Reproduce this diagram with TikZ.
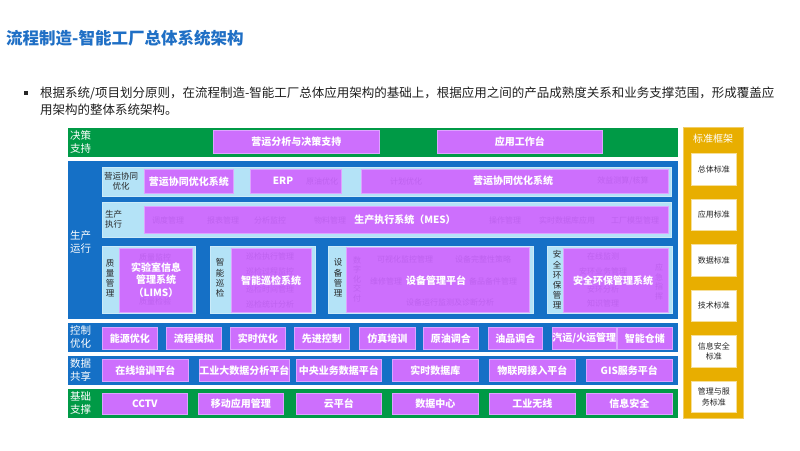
\documentclass[tikz,border=0pt]{standalone}
\usepackage{fontspec}
\setmainfont{Noto Sans CJK SC}
\usetikzlibrary{shadows}
\definecolor{tblue}{HTML}{1F6FC5}
\definecolor{bgreen}{HTML}{009A46}
\definecolor{bblue}{HTML}{1570C6}
\definecolor{lblue}{HTML}{B4E3F7}
\definecolor{mag}{HTML}{CD6FFD}
\definecolor{magb}{HTML}{DDA3FF}
\definecolor{ghost}{HTML}{BE62EF}
\definecolor{yel}{HTML}{E8AE00}
\newcommand\mb[6]{\node[mbox,anchor=north west,minimum width={(#4-#2)*1pt},minimum height={(#5-#3)*1pt}] (#1) at (#2,#3) {#6};}
\newcommand\rect[6]{\node[#6,anchor=north west,minimum width={(#4-#2)*1pt},minimum height={(#5-#3)*1pt}] (#1) at (#2,#3) {};}
\begin{document}
\begin{tikzpicture}[x=1pt,y=-1pt,
  mbox/.style={fill=mag,draw=magb,line width=0.7pt,inner sep=0pt,text=white,font=\fontsize{10}{12.5}\selectfont\bfseries,align=center},
  band/.style={draw=white,line width=1.2pt,inner sep=0pt,drop shadow={shadow xshift=0.6pt,shadow yshift=-0.6pt,opacity=0.3}},
  panel/.style={fill=lblue,draw=lblue!70!white,line width=0.6pt,inner sep=0pt,drop shadow={shadow xshift=1pt,shadow yshift=-1pt,opacity=0.45}},
  bandlab/.style={anchor=west,align=left,text=white,inner sep=0pt,font=\fontsize{10.5}{13}\selectfont},
  panlab/.style={align=center,text=black!85,inner sep=0pt,font=\fontsize{8.5}{10.2}\selectfont},
  ghosttxt/.style={text=ghost,inner sep=0pt,font=\fontsize{8}{10}\selectfont,align=center},
  lbl/.style={text=white,inner sep=0pt,font=\fontsize{10}{12.5}\selectfont\bfseries,align=center},
  stdbox/.style={fill=white,draw=yel!40!white,line width=0.5pt,inner sep=0pt,align=center,text=black!85,font=\fontsize{8}{10.5}\selectfont}
]
\useasboundingbox (0,0) rectangle (800,450);
\fill[white] (0,0) rectangle (800,450);

% title and text
\node[anchor=west,inner sep=0pt,text=tblue,font=\fontsize{16.5}{18}\selectfont\bfseries] (title) at (6,38) {流程制造-智能工厂总体系统架构};
\node[fill=black!85,minimum size=4pt,inner sep=0pt] (bul) at (26,93) {};
\node[anchor=west,inner sep=0pt,font=\fontsize{12.5}{14}\selectfont,text=black!88] (t1) at (40,93) {根据系统/项目划分原则，在流程制造-智能工厂总体应用架构的基础上，根据应用之间的产品成熟度关系和业务支撑范围，形成覆盖应};
\node[anchor=west,inner sep=0pt,font=\fontsize{12.5}{14}\selectfont,text=black!88] (t2) at (40,110) {用架构的整体系统架构。};

% bands
\rect{bdec}{67}{127}{678}{157}{band,fill=bgreen}
\rect{bprod}{67}{160}{678}{319}{band,fill=bblue}
\rect{bctrl}{67}{322}{678}{352}{band,fill=bblue}
\rect{bdata}{67}{355}{678}{385}{band,fill=bblue}
\rect{bbase}{67}{388}{678}{418}{band,fill=bgreen}
\node[bandlab] (ldec) at (70,142) {决策\\支持};
\node[bandlab] (lprod) at (70,242) {生产\\运行};
\node[bandlab] (lctrl) at (70,337) {控制\\优化};
\node[bandlab] (ldata) at (70,370) {数据\\共享};
\node[bandlab] (lbase) at (70,403) {基础\\支撑};

% decision row
\mb{d1}{213}{130}{379}{153}{营运分析与决策支持}
\mb{d2}{437}{130}{602}{153}{应用工作台}

% production panels
\rect{p1}{102}{167}{671}{196}{panel}
\rect{p2}{102}{202}{671}{237}{panel}
\rect{p3}{102}{246}{195}{313}{panel}
\rect{p4}{210}{246}{315}{313}{panel}
\rect{p5}{328}{246}{533}{313}{panel}
\rect{p6}{547}{246}{672}{313}{panel}
\node[panlab] (lp1) at (121,181) {营运协同\\优化};
\node[panlab,anchor=west,align=left] (lp2) at (105,219) {生产\\执行};
\node[panlab] (lp3) at (110,278) {质\\量\\管\\理};
\node[panlab] (lp4) at (220,278) {智\\能\\巡\\检};
\node[panlab] (lp5) at (338,278) {设\\备\\管\\理};
\node[panlab] (lp6) at (557,280) {安\\全\\环\\保\\管\\理};

% row 1
\mb{r1a}{144}{169}{233}{193}{营运协同优化系统}
\mb{r1b}{250}{169}{341}{193}{}
\mb{r1c}{361}{169}{668}{193}{}
\node[ghosttxt] (g1) at (322,181) {原油优化};
\node[ghosttxt] (g2) at (406,181) {计划优化};
\node[ghosttxt] (g3) at (623,181) {效益测算/核算};
\node[lbl] (l1b) at (283,181) {ERP};
\node[lbl] (l1c) at (513,181) {营运协同优化系统};

% row 2
\mb{r2}{144}{206}{668}{233}{}
\node[ghosttxt] (g4) at (168,220) {调度管理};
\node[ghosttxt] (g5) at (223,220) {报表管理};
\node[ghosttxt] (g6) at (270,220) {分析监控};
\node[ghosttxt] (g7) at (330,220) {物料管理};
\node[ghosttxt] (g8) at (505,220) {操作管理};
\node[ghosttxt] (g9) at (567,220) {实时数据库应用};
\node[ghosttxt] (g10) at (635,220) {工厂模型管理};
\node[lbl] (l2) at (405,220) {生产执行系统（MES）};

% quality
\mb{q}{119}{248}{192}{312}{}
\node[ghosttxt] (g11) at (155,257) {质量监控};
\node[ghosttxt] (g12) at (155,301) {质量检验};
\node[lbl] (lq) at (156,280) {实验室信息\\管理系统\\（LIMS）};

% inspection
\mb{z}{231}{248}{311}{312}{}
\node[ghosttxt] (g13) at (270,256) {巡检执行管理};
\node[ghosttxt] (g14) at (270,271) {巡检过程监控};
\node[ghosttxt] (g15) at (270,289) {巡检时间管理};
\node[ghosttxt] (g16) at (270,304) {巡检统计分析};
\node[lbl] (lz) at (271,281) {智能巡检系统};

% equipment
\mb{s}{346}{247}{529}{312}{}
\node[ghosttxt,font=\fontsize{8}{9.5}\selectfont] (g17) at (357,279) {数\\字\\化\\交\\付};
\node[ghosttxt] (g18) at (405,259) {可视化监控管理};
\node[ghosttxt] (g19) at (483,259) {设备完整性策略};
\node[ghosttxt] (g20) at (386,281) {维修管理};
\node[ghosttxt] (g21) at (493,281) {备品备件管理};
\node[ghosttxt] (g22) at (450,302) {设备运行监测及诊断分析};
\node[lbl] (ls) at (436,281) {设备管理平台};

% safety
\mb{a}{563}{248}{668}{312}{}
\node[ghosttxt] (g23) at (603,256) {在线监测};
\node[ghosttxt] (g24) at (603,271) {安环业务管理};
\node[ghosttxt] (g25) at (603,289) {安环分析};
\node[ghosttxt] (g26) at (603,303) {知识管理};
\node[ghosttxt,font=\fontsize{8}{9.5}\selectfont] (g27) at (659,282) {应\\急\\指\\挥};
\node[lbl] (la) at (613,281) {安全环保管理系统};

% control row
\mb{c1}{102}{327}{157}{349}{能源优化}
\mb{c2}{166}{327}{221}{349}{流程模拟}
\mb{c3}{230}{327}{285}{349}{实时优化}
\mb{c4}{294}{327}{349}{349}{先进控制}
\mb{c5}{359}{327}{415}{349}{仿真培训}
\mb{c6}{423}{327}{478}{349}{原油调合}
\mb{c7}{488}{327}{542}{349}{油品调合}
\mb{c8}{552}{327}{609}{349}{汽运/火运管理}
\mb{c9}{617}{327}{672}{349}{智能仓储}

% data row
\mb{s1}{102}{359}{188}{381}{在线培训平台}
\mb{s2}{199}{359}{284}{381}{工业大数据分析平台}
\mb{s3}{296}{359}{381}{381}{中央业务数据平台}
\mb{s4}{392}{359}{478}{381}{实时数据库}
\mb{s5}{489}{359}{575}{381}{物联网接入平台}
\mb{s6}{586}{359}{672}{381}{GIS服务平台}

% base row
\mb{b1}{102}{393}{187}{414}{CCTV}
\mb{b2}{198}{393}{283}{414}{移动应用管理}
\mb{b3}{296}{393}{381}{414}{云平台}
\mb{b4}{392}{393}{478}{414}{数据中心}
\mb{b5}{489}{393}{575}{414}{工业无线}
\mb{b6}{586}{393}{672}{414}{信息安全}

% standards
\rect{std}{683}{127}{743}{418}{band,fill=yel,draw=yel!60!white,line width=0.6pt}
\node[text=white,inner sep=0pt,font=\fontsize{10}{12}\selectfont] (stdt) at (713,139) {标准框架};
\rect{st1}{691}{153}{736}{185}{stdbox}
\rect{st2}{691}{199}{736}{230}{stdbox}
\rect{st3}{691}{244}{736}{276}{stdbox}
\rect{st4}{691}{290}{736}{321}{stdbox}
\rect{st5}{691}{335}{736}{367}{stdbox}
\rect{st6}{691}{381}{736}{412}{stdbox}
\node[stdbox,draw=none] (sl1) at (st1.center) {总体标准};
\node[stdbox,draw=none] (sl2) at (st2.center) {应用标准};
\node[stdbox,draw=none] (sl3) at (st3.center) {数据标准};
\node[stdbox,draw=none] (sl4) at (st4.center) {技术标准};
\node[stdbox,draw=none] (sl5) at (st5.center) {信息安全\\标准};
\node[stdbox,draw=none] (sl6) at (st6.center) {管理与服\\务标准};
\end{tikzpicture}
\end{document}
